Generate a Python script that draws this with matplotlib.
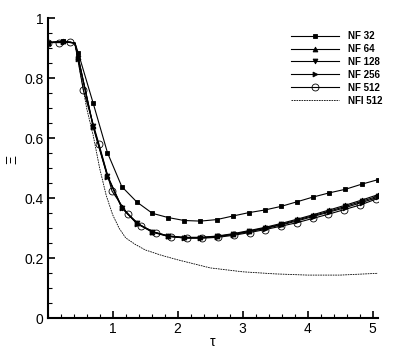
import matplotlib
matplotlib.use("Agg")
import matplotlib.pyplot as plt
from matplotlib.ticker import MultipleLocator

plt.rcParams["font.family"] = ["Liberation Sans", "DejaVu Sans"]

# values
tau_nf = [0, 0.24, 0.42, 0.47, 0.70, 0.92, 1.14, 1.37, 1.61, 1.85, 2.10, 2.35,
          2.60, 2.85, 3.09, 3.34, 3.59, 3.83, 4.08, 4.33, 4.58, 4.83, 5.08]
xi_nf32 = [0.919, 0.923, 0.918, 0.885, 0.717, 0.552, 0.439, 0.388, 0.350, 0.336, 0.326, 0.324,
           0.329, 0.341, 0.352, 0.361, 0.373, 0.388, 0.404, 0.418, 0.430, 0.447, 0.462]
xi_nf64 = [0.919, 0.923, 0.918, 0.870, 0.642, 0.476, 0.371, 0.318, 0.289, 0.275, 0.270, 0.270,
           0.274, 0.282, 0.292, 0.303, 0.316, 0.330, 0.345, 0.361, 0.377, 0.394, 0.412]
xi_nf128 = [0.919, 0.922, 0.918, 0.868, 0.640, 0.474, 0.369, 0.317, 0.288, 0.274, 0.269, 0.269,
            0.273, 0.280, 0.290, 0.301, 0.313, 0.327, 0.342, 0.357, 0.373, 0.390, 0.407]
xi_nf256 = [0.919, 0.922, 0.917, 0.866, 0.638, 0.472, 0.368, 0.316, 0.287, 0.273, 0.268, 0.268,
            0.272, 0.279, 0.288, 0.299, 0.311, 0.324, 0.339, 0.354, 0.369, 0.386, 0.403]

tau_nf512 = [0, 0.18, 0.35, 0.42, 0.55, 0.79, 0.99, 1.23, 1.44, 1.67, 1.90, 2.14,
             2.38, 2.62, 2.87, 3.11, 3.35, 3.59, 3.84, 4.08, 4.32, 4.56, 4.81, 5.05]
xi_nf512 = [0.919, 0.919, 0.921, 0.915, 0.760, 0.580, 0.424, 0.347, 0.308, 0.285, 0.272, 0.267,
            0.267, 0.270, 0.277, 0.286, 0.296, 0.307, 0.319, 0.333, 0.347, 0.362, 0.378, 0.397]

tau_nfi = [0, 0.2, 0.4, 0.45, 0.5, 0.6, 0.7, 0.8, 0.9, 1.0, 1.1, 1.2, 1.35, 1.5,
           1.75, 2.0, 2.5, 3.0, 3.5, 4.0, 4.5, 5.08]
xi_nfi = [0.919, 0.922, 0.918, 0.89, 0.82, 0.70, 0.61, 0.50, 0.41, 0.345, 0.30, 0.268, 0.246, 0.228,
          0.21, 0.195, 0.168, 0.155, 0.148, 0.144, 0.144, 0.15]

knee = 0.42  # end of the plateau, line point without a marker


def marks(tau):
    return [i for i, t in enumerate(tau) if t != knee]


fig = plt.figure(figsize=(3.99, 3.55), dpi=100)
ax = fig.add_axes([0.1195, 0.1034, 0.8275, 0.8450])

common = dict(color="black", lw=0.8, mew=0.6)
ax.plot(tau_nf, xi_nf32, marker="s", ms=3, markevery=marks(tau_nf), label="NF 32", **common)
ax.plot(tau_nf, xi_nf64, marker="^", ms=3.5, markevery=marks(tau_nf), label="NF 64", **common)
ax.plot(tau_nf, xi_nf128, marker="v", ms=3.5, markevery=marks(tau_nf), label="NF 128", **common)
ax.plot(tau_nf, xi_nf256, marker=">", ms=3.5, markevery=marks(tau_nf), label="NF 256", **common)
ax.plot(tau_nf512, xi_nf512, marker="o", ms=5, mfc="none", markevery=marks(tau_nf512),
        label="NF 512", **common)
ax.plot(tau_nfi, xi_nfi, color="black", lw=0.6, ls=(0, (2, 1)), label="NFI 512")

ax.set_xlim(0, 5.08)
ax.set_ylim(0, 1)
ax.xaxis.set_minor_locator(MultipleLocator(0.2))
ax.yaxis.set_minor_locator(MultipleLocator(0.05))
ax.set_xticks([1, 2, 3, 4, 5])
ax.set_xticklabels(["1", "2", "3", "4", "5"])
ax.set_yticks([0, 0.2, 0.4, 0.6, 0.8, 1])
ax.set_yticklabels(["0", "0.2", "0.4", "0.6", "0.8", "1"])

for side in ["top", "right"]:
    ax.spines[side].set_visible(False)
for side in ["left", "bottom"]:
    ax.spines[side].set_linewidth(1.5)
ax.tick_params(which="major", direction="in", length=5, width=1.2, labelsize=10, pad=3)
ax.tick_params(which="minor", direction="in", length=3, width=0.8)

ax.set_xlabel("τ", fontsize=10)
ax.xaxis.set_label_coords(0.5, -0.055)
ax.set_ylabel("Ξ", fontsize=10)
ax.yaxis.set_label_coords(-0.085, 0.53)

ax.legend(loc="upper right", bbox_to_anchor=(382 / 399, 1 - 31 / 355),
          bbox_transform=fig.transFigure, frameon=False, borderpad=0,
          borderaxespad=0, handlelength=4.9, handletextpad=0.9, labelspacing=0.3,
          prop={"size": 7, "weight": "bold"})

fig.savefig("out.png", dpi=100)
